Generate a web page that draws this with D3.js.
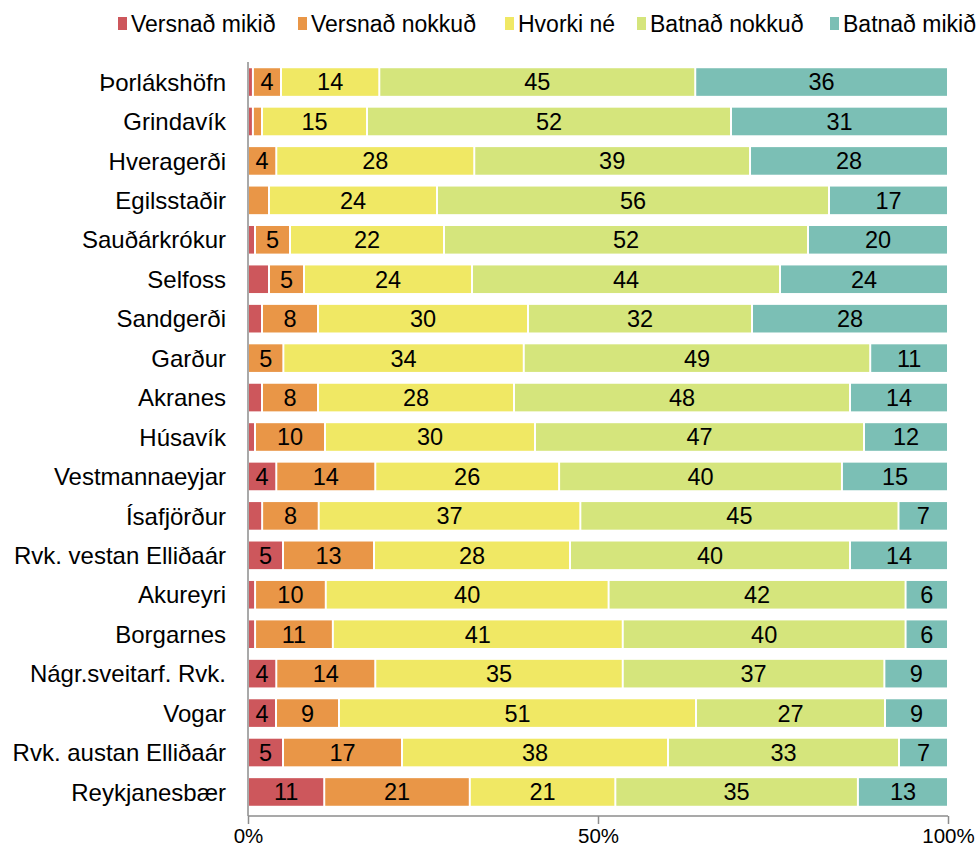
<!DOCTYPE html>
<html><head><meta charset="utf-8">
<script src="https://cdn.jsdelivr.net/npm/d3@7"></script>
<style>body{margin:0;background:#fff;} svg{display:block;font-family:"Liberation Sans",Arial,sans-serif;}</style>
</head><body>
<svg id="c" width="980" height="846"></svg>
<script>
const categories = ["Þorlákshöfn","Grindavík","Hveragerði","Egilsstaðir","Sauðárkrókur","Selfoss","Sandgerði","Garður","Akranes","Húsavík","Vestmannaeyjar","Ísafjörður","Rvk. vestan Elliðaár","Akureyri","Borgarnes","Nágr.sveitarf. Rvk.","Vogar","Rvk. austan Elliðaár","Reykjanesbær"];
const seriesNames = ["Versnað mikið","Versnað nokkuð","Hvorki né","Batnað nokkuð","Batnað mikið"];
const versnadMikid  = [0.7,0.7,0,0,1,3,2,0,2,1,4,2,5,1,1,4,4,5,11];
const versnadNokkud = [4,1.3,4,3,5,5,8,5,8,10,14,8,13,10,11,14,9,17,21];
const hvorkiNe      = [14,15,28,24,22,24,30,34,28,30,26,37,28,40,41,35,51,38,21];
const batnadNokkud  = [45,52,39,56,52,44,32,49,48,47,40,45,40,42,40,37,27,33,35];
const batnadMikid   = [36,31,28,17,20,24,28,11,14,12,15,7,14,6,6,9,9,7,13];
const tickLabels = ["0%","50%","100%"];
const colors = ["#cd575c","#e99647","#f0e864","#d5e57c","#7bbfb5"];

const series = [versnadMikid,versnadNokkud,hvorkiNe,batnadNokkud,batnadMikid];
const rows = categories.map((c,i)=>{
  const vals = series.map(s=>s[i]);
  const tot = d3.sum(vals);
  let acc = 0;
  return vals.map((v,k)=>{const seg={cat:c,k,v,x0:acc/tot*100,x1:(acc+v)/tot*100}; acc+=v; return seg;});
});

const svg = d3.select("#c");
const x = d3.scaleLinear().domain([0,100]).range([248,948]);
const y = d3.scaleBand().domain(categories).range([56.4,817.6]).padding(0.3);

const g = svg.append("g");
rows.forEach(r=>{
  r.filter(s=>s.v>0).forEach(s=>{
    g.append("rect").attr("x",x(s.x0)+1).attr("width",Math.max(0,x(s.x1)-x(s.x0)-2))
     .attr("y",y(s.cat)).attr("height",y.bandwidth()).attr("fill",colors[s.k]);
    if(s.v>=3.5){
      g.append("text").attr("x",(x(s.x0)+x(s.x1))/2).attr("y",y(s.cat)+y.bandwidth()/2)
       .attr("dy","0.36em").attr("text-anchor","middle").attr("font-size",23.5).attr("fill","#000")
       .text(Math.round(s.v));
    }
  });
});

categories.forEach(c=>{
  svg.append("text").attr("x",226).attr("y",y(c)+y.bandwidth()/2).attr("dy","0.36em")
   .attr("text-anchor","end").attr("font-size",24).attr("fill","#000").text(c);
});

svg.append("line").attr("x1",248).attr("x2",248).attr("y1",62).attr("y2",816).attr("stroke","#8c8c8c").attr("stroke-width",1.5);
const xAxis = d3.axisBottom(x).tickValues([0,50,100]).tickSize(8).tickFormat((d,i)=>tickLabels[i]);
const ax = svg.append("g").attr("transform","translate(0,816)").call(xAxis);
ax.select(".domain").attr("stroke","#8c8c8c").attr("stroke-width",1.5).attr("d","M248,0H948");
ax.selectAll(".tick line").attr("stroke","#8c8c8c").attr("stroke-width",1.5);
ax.selectAll(".tick text").attr("font-size",20.5).attr("fill","#000").attr("y",12)
  .attr("font-family","Liberation Sans, Arial, sans-serif");

const legX = [118,298,505,637,830];
seriesNames.forEach((n,i)=>{
  svg.append("rect").attr("x",legX[i]).attr("y",17).attr("width",9).attr("height",13).attr("fill",colors[i]);
  svg.append("text").attr("x",legX[i]+13).attr("y",23.5).attr("dy","0.36em").attr("font-size",23).attr("fill","#000").text(n);
});
</script>
</body></html>
